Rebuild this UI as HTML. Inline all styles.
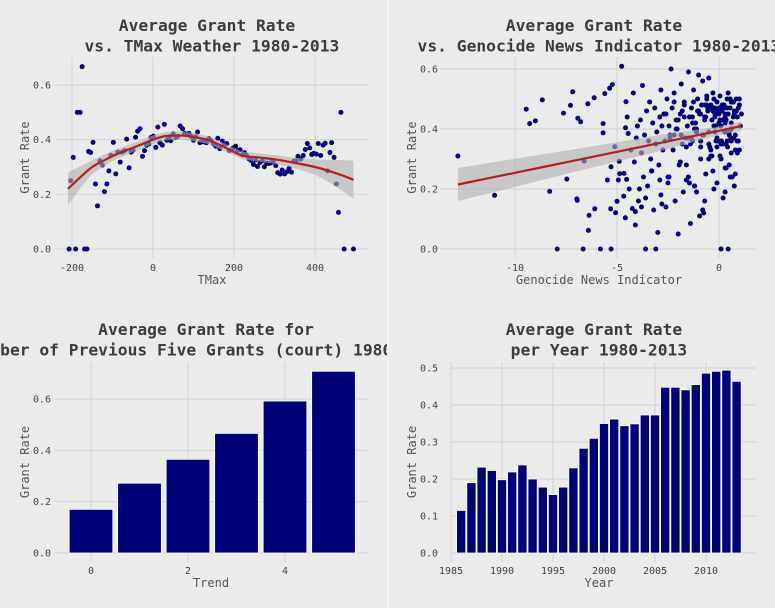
<!DOCTYPE html>
<html><head><meta charset="utf-8">
<style>
html,body{margin:0;padding:0;background:#ebebeb;}
svg{display:block;font-family:"DejaVu Sans Mono","Liberation Mono",monospace;}
.title{font-size:16.3px;font-weight:bold;fill:#3c3c3c;}
.tick{font-size:10px;fill:#444;}
.axt{font-size:12px;fill:#555;}
.grid{stroke:#d2d2d2;stroke-width:1;}
</style></head>
<body>
<svg id="chart" width="775" height="608" viewBox="0 0 775 608" xmlns="http://www.w3.org/2000/svg">
<rect x="0" y="0" width="775" height="608" fill="#ebebeb"/>
<line x1="388" y1="0" x2="388" y2="608" stroke="#f6f6f6" stroke-width="1.5"/>
<defs>
<clipPath id="clipL"><rect x="0" y="0" width="387" height="608"/></clipPath>
</defs>
<g id="p1"></g>
<g id="p2"></g>
<g id="p3" clip-path="url(#clipL)"></g>
<g id="p4"></g>
</svg>
<script>
// ---------- Panel 1 data ----------
const tmaxX = [-207,-203,-197,-191,-187,-180,-175,-169,-163,-159,-154,-148,-142,-137,-131,-125,-120,-114,-109,-104,-98,-92,-87,-81,-76,-70,-65,-59,-54,-49,-43,-38,-32,-26,-21,-16,-10,-5,1,7,12,17,23,28,34,40,44,50,56,61,67,73,78,83,89,94,100,105,110,116,122,127,132,138,143,149,155,160,165,171,176,182,188,193,198,204,209,215,221,226,231,237,242,248,253,258,264,270,275,281,286,291,297,303,308,314,319,325,331,336,342,348,353,358,365,371,376,381,387,392,397,403,408,414,420,425,431,437,441,447,453,458,464,472,495];
const tmaxY = [0,0.25,0.335,0,0.5,0.5,0.667,0,0,0.357,0.353,0.39,0.238,0.158,0.323,0.307,0.21,0.238,0.286,0.343,0.39,0.275,0.355,0.318,0.354,0.36,0.402,0.297,0.354,0.362,0.409,0.431,0.44,0.339,0.36,0.379,0.384,0.408,0.413,0.372,0.446,0.389,0.38,0.456,0.398,0.41,0.396,0.421,0.408,0.412,0.45,0.44,0.423,0.42,0.423,0.412,0.398,0.41,0.428,0.389,0.393,0.391,0.389,0.404,0.398,0.385,0.376,0.405,0.367,0.395,0.381,0.386,0.36,0.362,0.37,0.376,0.36,0.363,0.345,0.352,0.342,0.33,0.324,0.309,0.326,0.302,0.317,0.323,0.301,0.314,0.313,0.315,0.32,0.305,0.279,0.274,0.289,0.275,0.283,0.295,0.281,0.322,0.322,0.339,0.329,0.342,0.364,0.386,0.37,0.346,0.35,0.347,0.386,0.342,0.38,0.387,0.286,0.353,0.389,0.335,0.238,0.134,0.5,0,0];
const fit1X = [-210,-180,-150,-120,-100,-75,-50,-25,0,30,70,100,140,180,220,260,300,350,400,440,470,495];
const fit1Y = [0.22,0.262,0.3,0.325,0.34,0.356,0.37,0.385,0.4,0.413,0.415,0.41,0.397,0.37,0.342,0.335,0.328,0.315,0.3,0.283,0.268,0.253];
const fit1Lo = [0.16,0.222,0.275,0.304,0.322,0.339,0.354,0.369,0.384,0.398,0.4,0.395,0.383,0.356,0.328,0.32,0.312,0.296,0.272,0.24,0.21,0.183];
const fit1Hi = [0.28,0.302,0.325,0.346,0.358,0.373,0.386,0.401,0.416,0.428,0.43,0.425,0.411,0.384,0.356,0.35,0.344,0.334,0.328,0.326,0.325,0.323];
const ticks1X = [-200,0,200,400];
const ticks1Y = [0.0,0.2,0.4,0.6];

// ---------- Panel 2 data ----------
const genX = [-12.8,-11,-9.45,-9.28,-9.0,-8.66,-8.3,-7.93,-7.62,-7.46,-7.28,-7.17,-6.97,-6.95,-6.92,-6.78,-6.66,-6.61,-6.43,-6.4,-6.37,-6.12,-6.09,-5.81,-5.68,-5.68,-5.6,-5.47,-5.36,-5.31,-5.29,-5.29,-5.23,-5.11,-5.07,-5.0,-4.93,-4.89,-4.87,-4.77,-4.67,-4.66,-4.59,-4.56,-4.58,-4.53,-4.5,-4.45,-4.4,-4.32,-4.25,-4.2,-4.15,-4.1,-4.05,-4.0,-3.95,-3.9,-3.85,-3.8,-3.75,-3.7,-3.65,-3.6,-3.55,-3.5,-3.45,-3.4,-3.35,-3.3,-3.25,-3.2,-3.15,-3.1,-3.05,-3.0,-2.95,-2.9,-2.85,-2.8,-2.75,-2.7,-2.65,-2.6,-2.55,-2.5,-2.45,-2.4,-2.35,-2.3,-2.25,-2.2,-2.15,-2.1,-2.05,-2.0,-1.95,-1.9,-1.85,-1.8,-1.75,-1.7,-1.65,-1.6,-1.55,-1.5,-1.45,-1.4,-1.35,-1.3,-1.25,-1.2,-1.15,-1.1,-1.05,-1.0,-0.95,-0.9,-0.85,-0.8,-0.75,-0.7,-0.65,-0.6,-0.55,-0.5,-0.45,-0.4,-0.35,-0.3,-0.25,-0.2,-0.15,-0.1,-0.05,0.0,0.05,0.1,0.15,0.2,0.25,0.3,0.35,0.4,0.45,0.5,0.55,0.6,0.65,0.7,0.75,0.8,0.85,0.9,0.95,1.0,1.05,1.1,-2.4,-2.2,-2.0,-1.8,-1.6,-1.4,-1.2,-1.0,-0.8,-0.6,-0.4,-0.2,0.0,0.2,0.4,0.6,0.8,1.0,-1.9,-1.7,-1.5,-1.3,-1.1,-0.9,-0.7,-0.5,-0.3,-0.1,0.1,0.3,0.5,0.7,0.9,-1.3,-1.1,-0.9,-0.7,-0.5,-0.3,-0.1,0.1,0.3,0.5,0.7,-0.6,-0.4,-0.2,0.0,0.2,0.4,0.6,0.8,-2.8,-2.6,-2.2,-1.7,-0.9,-0.1,0.3,0.6,-3.3,-2.9,-2.5,-1.5,-0.7,-0.3,0.05,0.35,0.55,0.75,-2.85,-2.45,-1.45,0.3,-1.2,-0.8,0.1,0.45,-3.6,-3.1,-4.1,-3.8,-0.95,-0.75,-0.55,-0.35,-0.15,0.05,0.25,0.45,0.65,0.85,-0.85,-0.65,-0.45,-0.25,-0.05,0.15,0.35,0.55,0.75,0.95,-1.25,-1.05,-0.9,-0.6,-0.2,0.2,0.6,1.0,-1.6,-1.35,-0.5,0.12,0.42,0.72,-2.1,-1.85,-0.25,0.28,0.58,0.88];
const genY = [0.31,0.179,0.466,0.418,0.427,0.497,0.192,0,0.453,0.233,0.479,0.524,0.167,0.162,0.436,0.424,0,0.293,0.484,0.062,0.112,0.504,0.134,0,0.418,0.387,0.518,0.23,0.536,0.134,0,0.274,0.548,0.341,0.121,0.159,0.23,0.292,0.251,0.609,0.176,0.252,0.104,0.491,0.404,0.232,0.44,0.385,0.2,0.33,0.135,0.52,0.29,0.125,0.37,0.41,0.16,0.2,0.43,0.32,0.545,0.24,0.38,0.17,0.46,0.21,0.36,0.49,0.3,0.26,0.42,0.13,0.47,0.35,0.39,0.055,0.28,0.44,0.53,0.15,0.33,0.45,0.36,0.14,0.5,0.24,0.41,0.38,0.6,0.47,0.33,0.52,0.16,0.43,0.4,0.05,0.28,0.45,0.55,0.35,0.19,0.49,0.37,0.23,0.41,0.59,0.44,0.085,0.47,0.36,0.53,0.21,0.42,0.39,0.5,0.58,0.45,0.3,0.48,0.56,0.38,0.44,0.25,0.5,0.46,0.57,0.34,0.48,0.43,0.52,0.2,0.47,0.41,0.49,0.36,0.45,0.51,0.3,0.46,0.17,0.48,0.44,0.35,0.5,0.52,0.39,0.47,0.42,0.24,0.49,0.46,0.38,0.5,0.44,0.36,0.48,0.41,0.45,0.37,0.49,0.43,0.46,0.28,0.35,0.4,0.46,0.38,0.48,0.31,0.45,0.42,0.35,0.47,0.4,0.33,0.5,0.29,0.44,0.37,0.42,0.19,0.36,0.43,0.39,0.47,0.34,0.41,0.45,0.38,0.49,0.32,0.44,0.4,0.36,0.48,0.3,0.46,0.37,0.35,0.42,0.28,0.44,0.51,0.33,0.39,0.47,0.43,0.36,0.49,0.25,0.41,0.45,0.38,0.48,0.34,0.22,0.27,0.32,0.26,0.23,0.22,0.24,0.16,0.26,0.31,0.27,0.24,0.21,0.18,0.24,0.22,0.19,0.21,0.13,0.0,0.0,0.0,0.0,0.08,0.14,0.11,0.12,0.47,0.31,0.36,0.43,0.47,0.45,0.49,0.46,0.48,0.44,0.47,0.5,0.46,0.48,0.43,0.5,0.45,0.47,0.49,0.46,0.45,0.48,0.44,0.47,0.36,0.33,0.34,0.37,0.35,0.36,0.34,0.37,0.4,0.38,0.41,0.39,0.37,0.36,0.39,0.38,0.42,0.35,0.33,0.36];
const fit2X = [-12.8,-10,-7.5,-5,-2.5,0,1.1];
const fit2Y = [0.215,0.254,0.289,0.324,0.359,0.394,0.41];
const fit2Lo = [0.16,0.207,0.25,0.292,0.333,0.38,0.395];
const fit2Hi = [0.27,0.301,0.328,0.356,0.385,0.408,0.425];
const ticks2X = [-10,-5,0];
const ticks2Y = [0.0,0.2,0.4,0.6];

// ---------- Panel 3 data ----------
const trendCats = [0,1,2,3,4,5];
const trendVals = [0.17,0.272,0.365,0.466,0.592,0.708];
const ticks3X = [0,2,4];
const ticks3Y = [0.0,0.2,0.4,0.6];

// ---------- Panel 4 data ----------
const years = [1986,1987,1988,1989,1990,1991,1992,1993,1994,1995,1996,1997,1998,1999,2000,2001,2002,2003,2004,2005,2006,2007,2008,2009,2010,2011,2012,2013];
const yearVals = [0.115,0.19,0.232,0.223,0.198,0.219,0.238,0.2,0.178,0.158,0.178,0.23,0.283,0.31,0.35,0.362,0.344,0.349,0.373,0.373,0.448,0.448,0.441,0.455,0.486,0.491,0.494,0.464];
const ticks4X = [1985,1990,1995,2000,2005,2010];
const ticks4Y = [0.0,0.1,0.2,0.3,0.4,0.5];

const NS = 'http://www.w3.org/2000/svg';
function mk(parent, tag, attrs, text){
  const e = document.createElementNS(NS, tag);
  for (const k in attrs) e.setAttribute(k, attrs[k]);
  if (text !== undefined) e.textContent = text;
  parent.appendChild(e);
  return e;
}
function lin(d0,d1,r0,r1){ return v => r0 + (v-d0)*(r1-r0)/(d1-d0); }

function frame(g, cfg){
  const {sx, sy, xt, yt, gx0, gx1, gy0, gy1, xfmt, yfmt, xLabel, yLabelX, title, tcx, tickY, xlabY, tickX} = cfg;
  yt.forEach(v=>{
    const l = mk(g,'line',{x1:gx0,x2:gx1,y1:sy(v),y2:sy(v),class:'grid'});
    
    
    const t = mk(g,'text',{x:tickX,y:sy(v)+3.5,'text-anchor':'end',class:'tick'}, yfmt(v));
    
    
  });
  xt.forEach(v=>{
    const l = mk(g,'line',{x1:sx(v),x2:sx(v),y1:gy0,y2:gy1,class:'grid'});
    
    
    const t = mk(g,'text',{x:sx(v),y:tickY,'text-anchor':'middle',class:'tick'}, xfmt(v));
    
    
  });
  const xl = mk(g,'text',{x:cfg.xlabX,y:xlabY,'text-anchor':'middle',class:'axt'}, xLabel);
  
  
  const cy = (gy0+gy1)/2;
  const yl = mk(g,'text',{x:yLabelX,y:cy,'text-anchor':'middle',class:'axt',transform:`rotate(-90 ${yLabelX} ${cy})`}, 'Grant Rate');
  
  
  title.forEach((s,i)=>{
    const t = mk(g,'text',{x:tcx,y:cfg.titleY+i*20.5,'text-anchor':'middle',class:'title'}, s);
    t.style.whiteSpace='pre';
    
    
  });
}
function band(g, sx, sy, xs, lo, hi){
  let d = 'M' + xs.map((x,i)=>sx(x)+','+sy(hi[i])).join(' L');
  d += ' L' + xs.slice().reverse().map((x,j)=>{const i=xs.length-1-j; return sx(x)+','+sy(lo[i]);}).join(' L') + ' Z';
  const p = mk(g,'path',{d:d,fill:'#b0b0b0','fill-opacity':0.6});
  
  
}
function curve(g, sx, sy, xs, ys){
  const pts = xs.map((x,i)=>[sx(x),sy(ys[i])]);
  let d = 'M'+pts[0][0]+','+pts[0][1];
  for (let i=0;i<pts.length-1;i++){
    const p0=pts[Math.max(0,i-1)],p1=pts[i],p2=pts[i+1],p3=pts[Math.min(pts.length-1,i+2)];
    const c1=[p1[0]+(p2[0]-p0[0])/6,p1[1]+(p2[1]-p0[1])/6];
    const c2=[p2[0]-(p3[0]-p1[0])/6,p2[1]-(p3[1]-p1[1])/6];
    d+=` C${c1[0]},${c1[1]} ${c2[0]},${c2[1]} ${p2[0]},${p2[1]}`;
  }
  const p = mk(g,'path',{d:d,fill:'none',stroke:'#b21f1f','stroke-width':2.2});
  
  
}
const f1 = v=>v.toFixed(1);
const fi = v=>String(v);

// Panel 1
(function(){
  const g = document.getElementById('p1');
  const sx = lin(0,200,153,234), sy = lin(0,0.6,249,85);
  frame(g,{sx,sy,xt:ticks1X,yt:ticks1Y,gx0:57,gx1:368,gy0:57,gy1:258,tickX:51,xfmt:fi,yfmt:f1,xLabel:'TMax',xlabX:212,xlabY:284,yLabelX:29,title:['Average Grant Rate',' vs. TMax Weather 1980-2013'],tcx:207,titleY:31,tickY:271});
  tmaxX.forEach((x,i)=>{
    const c = mk(g,'circle',{cx:sx(x),cy:sy(tmaxY[i]),r:2.5,fill:'#000080'});
    
    
  });
  band(g,sx,sy,fit1X,fit1Lo,fit1Hi);
  curve(g,sx,sy,fit1X,fit1Y);
})();
// Panel 2
(function(){
  const g = document.getElementById('p2');
  const sx = lin(0,-10,719,515), sy = lin(0,0.6,249,69);
  frame(g,{sx,sy,xt:ticks2X,yt:ticks2Y,gx0:440,gx1:756,gy0:57,gy1:258,tickX:438,xfmt:fi,yfmt:f1,xLabel:'Genocide News Indicator',xlabX:599,xlabY:284,yLabelX:416,title:['Average Grant Rate',' vs. Genocide News Indicator 1980-2013'],tcx:594,titleY:31,tickY:271});
  genX.forEach((x,i)=>{
    const c = mk(g,'circle',{cx:sx(x),cy:sy(genY[i]),r:2.5,fill:'#000080'});
    
    
  });
  band(g,sx,sy,fit2X,fit2Lo,fit2Hi);
  curve(g,sx,sy,fit2X,fit2Y);
})();
// Panel 3
(function(){
  const g = document.getElementById('p3');
  const sx = lin(0,2,91,188), sy = lin(0,0.6,553,399);
  frame(g,{sx,sy,xt:ticks3X,yt:ticks3Y,gx0:55,gx1:368,gy0:362,gy1:562,tickX:51,xfmt:fi,yfmt:f1,xLabel:'Trend',xlabX:211,xlabY:587,yLabelX:29,title:['Average Grant Rate for','Number of Previous Five Grants (court) 1980-2013'],tcx:206,titleY:335,tickY:574});
  const w = (sx(1)-sx(0))*0.9;
  trendCats.forEach((c,i)=>{
    const r = mk(g,'rect',{x:sx(c)-w/2,y:sy(trendVals[i]),width:w,height:sy(0)-sy(trendVals[i]),fill:'#000078',stroke:'#ffffff','stroke-width':0.8});
    
    
  });
})();
// Panel 4
(function(){
  const g = document.getElementById('p4');
  const sx = lin(1985,2010,451,706), sy = lin(0,0.5,553,368);
  frame(g,{sx,sy,xt:ticks4X,yt:ticks4Y,gx0:451,gx1:756,gy0:362,gy1:562,tickX:438,xfmt:fi,yfmt:f1,xLabel:'Year',xlabX:599,xlabY:587,yLabelX:416,title:['Average Grant Rate',' per Year 1980-2013'],tcx:594,titleY:335,tickY:574});
  const w = (sx(1)-sx(0))*0.9;
  years.forEach((yr,i)=>{
    const r = mk(g,'rect',{x:sx(yr)-w/2,y:sy(yearVals[i]),width:w,height:sy(0)-sy(yearVals[i]),fill:'#000078',stroke:'#ffffff','stroke-width':0.8});
    
    
  });
})();
</script>
</body></html>
